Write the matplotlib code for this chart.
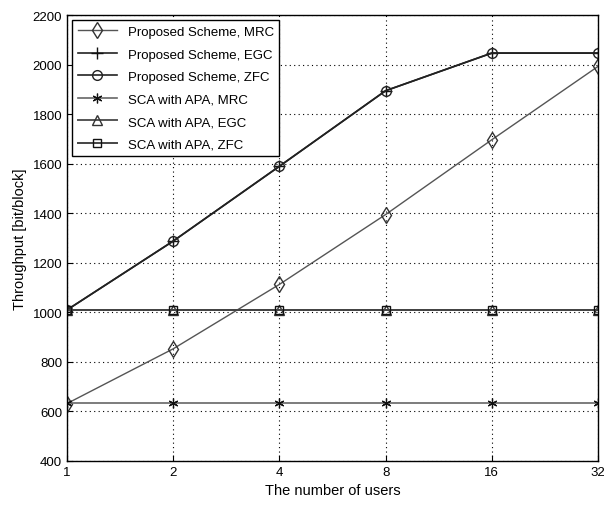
import matplotlib
matplotlib.use("Agg")
import matplotlib.pyplot as plt

plt.rcParams['font.family'] = ['Liberation Sans', 'DejaVu Sans']

# nombre d'utilisateurs (axe x equidistant)
users = ["1", "2", "4", "8", "16", "32"]

prop_mrc = [632, 853, 1113, 1395, 1697, 1993]
prop_egc = [1010, 1288, 1590, 1895, 2047, 2047]
prop_zfc = [1010, 1288, 1590, 1895, 2047, 2047]
sca_mrc = [633, 633, 633, 633, 633, 633]
sca_egc = [1010, 1010, 1010, 1010, 1010, 1010]
sca_zfc = [1010, 1010, 1010, 1010, 1010, 1010]

fig = plt.figure(figsize=(6.04, 5.06), dpi=100)
ax = fig.add_axes([0.111, 0.087, 0.879, 0.881])

x = range(len(users))
ax.plot(x, prop_mrc, color="#555555", lw=1.0, marker="d", ms=8, mfc="none", mec="#333333",
        label="Proposed Scheme, MRC")
ax.plot(x, prop_egc, color="#222222", lw=1.2, marker="+", ms=9, mec="#111111",
        label="Proposed Scheme, EGC")
ax.plot(x, prop_zfc, color="#222222", lw=1.2, marker="o", ms=7, mfc="none", mec="#222222",
        label="Proposed Scheme, ZFC")
ax.plot(x, sca_mrc, color="#666666", lw=1.2, marker=(6, 2, 0), ms=7, mec="#111111", mew=0.9,
        label="SCA with APA, MRC")
ax.plot(x, sca_egc, color="#555555", lw=1.4, marker="^", ms=7, mfc="none", mec="#333333",
        label="SCA with APA, EGC")
ax.plot(x, sca_zfc, color="#444444", lw=1.4, marker="s", ms=6, mfc="none", mec="#111111",
        label="SCA with APA, ZFC")

ax.set_xlim(0, len(users) - 1)
ax.set_ylim(400, 2200)
ax.set_xticks(list(x))
ax.set_xticklabels(users)
ax.set_yticks(range(400, 2201, 200))
ax.tick_params(labelsize=9.5, direction="in", length=4)
ax.grid(True, color="black", linestyle=(0, (1, 3)), lw=0.8)
for s in ax.spines.values():
    s.set_linewidth(1.0)

ax.set_xlabel("The number of users", fontsize=10.5)
ax.set_ylabel("Throughput [bit/block]", fontsize=10.5)

leg = ax.legend(loc="upper left", fontsize=9.5, handlelength=3.0, borderaxespad=0.4,
                fancybox=False, framealpha=1, edgecolor="black", labelspacing=0.78)
leg.get_frame().set_linewidth(1.0)

fig.savefig("out.png", dpi=100)
